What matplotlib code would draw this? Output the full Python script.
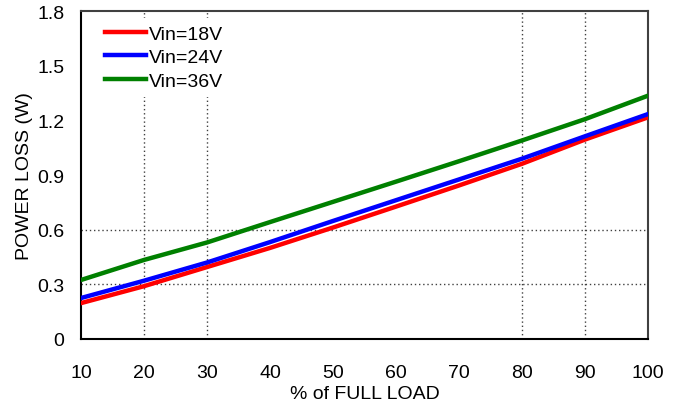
import matplotlib
matplotlib.use("Agg")
import matplotlib.pyplot as plt

plt.rcParams['font.family'] = ['Liberation Sans', 'DejaVu Sans']

load = [10, 20, 30, 40, 50, 60, 70, 80, 90, 100]
vin18 = [0.197, 0.29, 0.395, 0.50, 0.612, 0.727, 0.843, 0.962, 1.095, 1.217]
vin24 = [0.225, 0.32, 0.42, 0.532, 0.648, 0.762, 0.876, 0.99, 1.113, 1.235]
vin36 = [0.324, 0.434, 0.53, 0.642, 0.753, 0.864, 0.976, 1.09, 1.207, 1.336]
labels = ['Vin=18V', 'Vin=24V', 'Vin=36V']
colors = ['#ff0000', '#0000ff', '#008000']
xticks = [10, 20, 30, 40, 50, 60, 70, 80, 90, 100]
yticks = [0, 0.3, 0.6, 0.9, 1.2, 1.5, 1.8]
ytick_labels = ['0', '0.3', '0.6', '0.9', '1.2', '1.5', '1.8']
grid_x = [20, 30, 80, 90]
grid_y = [0.3, 0.6]

fig = plt.figure(figsize=(6.81, 4.06), dpi=100)
ax = fig.add_subplot(111)
fig.subplots_adjust(left=0.119, right=0.9515, top=0.970, bottom=0.1626)

for gx in grid_x:
    ax.axvline(gx, color='#404040', linestyle=(0, (1, 2)), linewidth=1.0, zorder=1)
for gy in grid_y:
    ax.axhline(gy, color='#404040', linestyle=(0, (1, 2)), linewidth=1.0, zorder=1)

for ys, lab, c in zip([vin18, vin24, vin36], labels, colors):
    ax.plot(load, ys, color=c, linewidth=3.2, label=lab, zorder=3)

ax.set_xlim(10, 100)
ax.set_ylim(0, 1.8)
ax.set_xticks(xticks)
ax.set_yticks(yticks)
ax.set_yticklabels(ytick_labels)
ax.set_xticks(grid_x, minor=True)
ax.tick_params(axis='both', which='major', length=0, labelsize=14, colors='black')
ax.tick_params(axis='x', which='major', pad=18)
ax.tick_params(axis='y', which='major', pad=12)
ax.tick_params(axis='x', which='minor', direction='in', length=5, width=1.2, color='#404040')
ax.tick_params(axis='y', which='minor', length=0)

for s in ax.spines.values():
    s.set_color('#404040')
    s.set_linewidth(1.5)
ax.spines['bottom'].set_color('black')
ax.spines['left'].set_color('black')

ax.set_xlabel('% of FULL LOAD', fontsize=14, labelpad=3)
ax.set_ylabel('POWER LOSS (W)', fontsize=14, labelpad=3)

leg = ax.legend(loc='upper left', bbox_to_anchor=(0.03, 0.978), fontsize=14,
                frameon=True, framealpha=1, edgecolor='none', facecolor='white',
                handlelength=2.1, handletextpad=0.15, labelspacing=0.3,
                borderpad=0.35, borderaxespad=0)
leg.set_zorder(2)

fig.savefig('out.png', dpi=100)
